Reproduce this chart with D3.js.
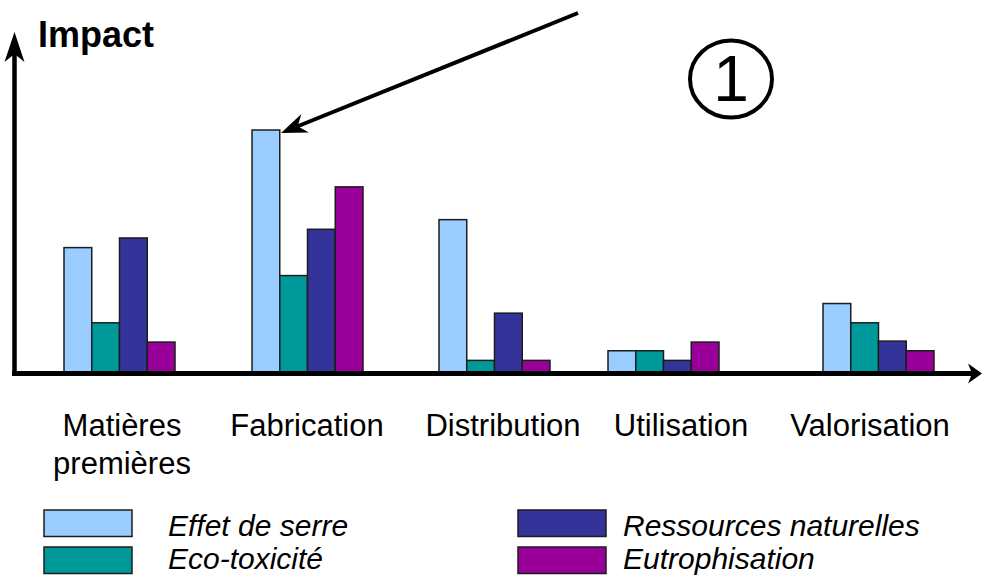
<!DOCTYPE html>
<html>
<head>
<meta charset="utf-8">
<script src="https://d3js.org/d3.v7.min.js"></script>
<style>
  body { margin: 0; background: #fff; }
</style>
</head>
<body>
<div id="chart"></div>
<script>
// chart data
var categories = ["Matières premières", "Fabrication", "Distribution", "Utilisation", "Valorisation"];
var series = ["Effet de serre", "Eco-toxicité", "Ressources naturelles", "Eutrophisation"];
var effetSerre = [12.8, 25.0, 15.7, 2.1, 7.0];
var ecoToxicite = [5.0, 9.9, 1.1, 2.1, 5.0];
var ressources = [13.8, 14.7, 6.0, 1.1, 3.1];
var eutrophisation = [3.0, 19.1, 1.1, 3.0, 2.1];
var values = [effetSerre, ecoToxicite, ressources, eutrophisation];

// layout
var w = 982, h = 576;
var baseY = 371, axisY = 373.5;
var groupLeft = [64, 252, 439, 608, 823];
var labelCenter = [122, 307, 503, 681, 870];
var groupWidth = 111;
var colors = ["#99ccff", "#009999", "#333399", "#990099"];

var svg = d3.select("#chart").append("svg")
    .attr("width", w)
    .attr("height", h);

var x0 = d3.scaleOrdinal().domain(categories).range(groupLeft);
var xl = d3.scaleOrdinal().domain(categories).range(labelCenter);
var x1 = d3.scaleBand().domain(series).range([0, groupWidth]);
var y = d3.scaleLinear().domain([0, 25]).range([baseY, 130]);
var color = d3.scaleOrdinal().domain(series).range(colors);

// flatten for drawing
var rows = [];
categories.forEach(function(c, i) {
    series.forEach(function(s, j) {
        rows.push({cat: c, ser: s, v: values[j][i]});
    });
});

// bars
svg.append("g").selectAll("rect")
    .data(rows)
    .enter().append("rect")
    .attr("x", function(d) { return x0(d.cat) + x1(d.ser); })
    .attr("y", function(d) { return y(d.v); })
    .attr("width", x1.bandwidth())
    .attr("height", function(d) { return axisY - y(d.v); })
    .attr("fill", function(d) { return color(d.ser); })
    .attr("stroke", "#1c1c1c")
    .attr("stroke-width", 1.5);

// axes
svg.append("line")
    .attr("x1", 12).attr("x2", 972)
    .attr("y1", axisY).attr("y2", axisY)
    .attr("stroke", "#000").attr("stroke-width", 5);
svg.append("line")
    .attr("x1", 14.5).attr("x2", 14.5)
    .attr("y1", axisY + 2.5).attr("y2", 50)
    .attr("stroke", "#000").attr("stroke-width", 4.5);

function arrowHead(tx, ty, angle, len, half, notch) {
    var ca = Math.cos(angle), sa = Math.sin(angle);
    function pt(a, b) { return [tx - a * ca - b * sa, ty - a * sa + b * ca]; }
    svg.append("path")
        .attr("d", d3.line()([pt(0, 0), pt(len, half), pt(notch, 0), pt(len, -half)]) + "Z")
        .attr("fill", "#000");
}
arrowHead(14.5, 32, -Math.PI / 2, 30, 10, 22);
arrowHead(982, axisY, 0, 14, 10, 10);

// big arrow pointing to fabrication
var ax1 = 578, ay1 = 13, ax2 = 281, ay2 = 133;
var ang = Math.atan2(ay2 - ay1, ax2 - ax1);
var notch = 18;
svg.append("line")
    .attr("x1", ax1).attr("y1", ay1)
    .attr("x2", ax2 - notch * Math.cos(ang)).attr("y2", ay2 - notch * Math.sin(ang))
    .attr("stroke", "#000").attr("stroke-width", 4);
arrowHead(ax2, ay2, ang, 26, 10, notch);

// circled number
svg.append("ellipse")
    .attr("cx", 731).attr("cy", 79)
    .attr("rx", 41).attr("ry", 38.5)
    .attr("fill", "none").attr("stroke", "#000").attr("stroke-width", 4);
svg.append("text")
    .text("1")
    .attr("x", 731).attr("y", 101)
    .attr("text-anchor", "middle")
    .attr("font-family", "Liberation Sans, Arial, sans-serif")
    .attr("font-size", "64px")
    .attr("fill", "#000");

// title
svg.append("text")
    .text("Impact")
    .attr("x", 38).attr("y", 47)
    .attr("font-family", "Liberation Sans, Arial, sans-serif")
    .attr("font-weight", "bold")
    .attr("font-size", "36px")
    .attr("fill", "#000");

// category labels
var lab = svg.append("g").selectAll("text")
    .data(categories)
    .enter().append("text")
    .attr("text-anchor", "middle")
    .attr("font-family", "Liberation Sans, Arial, sans-serif")
    .attr("font-size", "31px")
    .attr("fill", "#000");
lab.each(function(d) {
    var parts = d.split(" ");
    var t = d3.select(this);
    parts.forEach(function(p, k) {
        t.append("tspan")
            .text(p)
            .attr("x", xl(d))
            .attr("y", 436 + k * 38);
    });
});

// legend
var legX = [44, 518], legY = [510, 547];
var leg = svg.append("g").selectAll("g")
    .data(series)
    .enter().append("g")
    .attr("transform", function(d, i) {
        return "translate(" + legX[Math.floor(i / 2)] + "," + legY[i % 2] + ")";
    });
leg.append("rect")
    .attr("width", 88).attr("height", 26.5)
    .attr("fill", function(d) { return color(d); })
    .attr("stroke", "#1c1c1c")
    .attr("stroke-width", 1.5);
leg.append("text")
    .text(function(d) { return d; })
    .attr("x", function(d, i) { return i < 2 ? 124 : 105; })
    .attr("y", function(d, i) { return i % 2 ? 22 : 25.5; })
    .attr("font-family", "Liberation Sans, Arial, sans-serif")
    .attr("font-style", "italic")
    .attr("font-size", "30px")
    .attr("fill", "#000");
</script>
</body>
</html>
